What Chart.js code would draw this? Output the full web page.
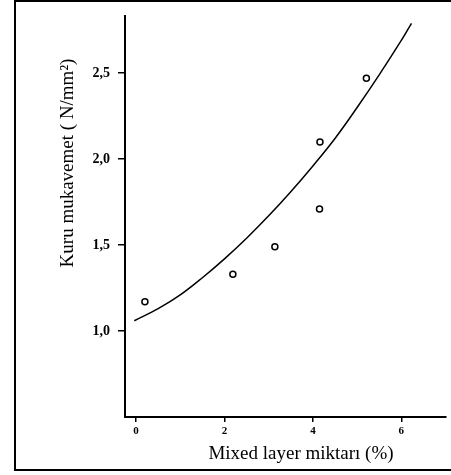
<!DOCTYPE html>
<html>
<head>
<meta charset="utf-8">
<script src="https://cdn.jsdelivr.net/npm/chart.js@4"></script>
<style>
  html, body { margin: 0; padding: 0; background: #fff; }
  #wrap { width: 451px; height: 475px; }
</style>
</head>
<body>
<div id="wrap"><canvas id="myChart" width="451" height="475"></canvas></div>
<script>
// measured points (Mixed layer %, strength N/mm2)
const measuredX = [0.2, 2.19, 3.14, 4.15, 4.16, 5.21];
const measuredY = [1.17, 1.33, 1.49, 1.71, 2.10, 2.47];

// fitted curve
const curveX = [-0.04, 0.5, 1.0, 1.5, 2.0, 2.5, 3.0, 3.5, 4.0, 4.5, 5.0, 5.5, 6.0, 6.23];
const curveY = [1.06, 1.13, 1.21, 1.31, 1.42, 1.54, 1.67, 1.81, 1.96, 2.12, 2.30, 2.49, 2.69, 2.79];

const xTicks = [0, 2, 4, 6];
const yTicks = [1.0, 1.5, 2.0, 2.5];

const xTitle = "Mixed layer miktarı (%)";
const yTitle = "Kuru mukavemet ( N/mm²)";

const serif = "'Liberation Serif', 'DejaVu Serif', serif";

// outer frame + axis titles
const framePlugin = {
  id: "frame",
  afterDraw(chart) {
    const ctx = chart.ctx;
    ctx.save();
    ctx.strokeStyle = "#000";
    ctx.lineWidth = 2;
    ctx.strokeRect(15, 1, 460, 469);

    ctx.fillStyle = "#000";
    ctx.font = "19px " + serif;
    ctx.textAlign = "center";
    ctx.textBaseline = "middle";
    ctx.fillText(xTitle, 301, 454);

    ctx.translate(68, 163);
    ctx.rotate(-Math.PI / 2);
    ctx.fillText(yTitle, 0, 0);
    ctx.restore();
  },
};

const ctx = document.getElementById("myChart");
const myChart = new Chart(ctx, {
  type: "scatter",
  data: {
    datasets: [
      {
        label: "curve",
        type: "line",
        data: curveX.map((x, i) => ({ x: x, y: curveY[i] })),
        borderColor: "#000",
        borderWidth: 1.5,
        pointRadius: 0,
        tension: 0.4,
        fill: false,
      },
      {
        label: "measured",
        data: measuredX.map((x, i) => ({ x: x, y: measuredY[i] })),
        pointStyle: "circle",
        pointRadius: 3,
        pointBorderWidth: 1.5,
        pointBorderColor: "#000",
        pointBackgroundColor: "#fff",
      },
    ],
  },
  options: {
    responsive: false,
    animation: false,
    layout: { padding: { left: 0, top: 16, right: -6, bottom: 0 } },
    plugins: {
      legend: { display: false },
      tooltip: { enabled: false },
    },
    scales: {
      x: {
        type: "linear",
        min: -0.25,
        max: 7.0,
        afterBuildTicks: (scale) => {
          scale.ticks = xTicks.map((v) => ({ value: v }));
        },
        afterFit: (scale) => {
          scale.height = 58;
        },
        border: { color: "#000", width: 2 },
        grid: { drawOnChartArea: false, color: "#000", tickLength: 5, lineWidth: 1.5 },
        ticks: {
          color: "#000",
          padding: 3,
          font: { family: serif, size: 11, weight: "bold" },
          callback: (v) => String(v),
        },
      },
      y: {
        min: 0.5,
        max: 2.83,
        afterBuildTicks: (scale) => {
          scale.ticks = yTicks.map((v) => ({ value: v }));
        },
        afterFit: (scale) => {
          scale.width = 125;
        },
        border: { color: "#000", width: 2 },
        grid: { drawOnChartArea: false, color: "#000", tickLength: 7, lineWidth: 1.5 },
        ticks: {
          color: "#000",
          padding: 8,
          font: { family: serif, size: 14, weight: "bold" },
          callback: (v) => v.toFixed(1).replace(".", ","),
        },
      },
    },
  },
  plugins: [framePlugin],
});
</script>
</body>
</html>
